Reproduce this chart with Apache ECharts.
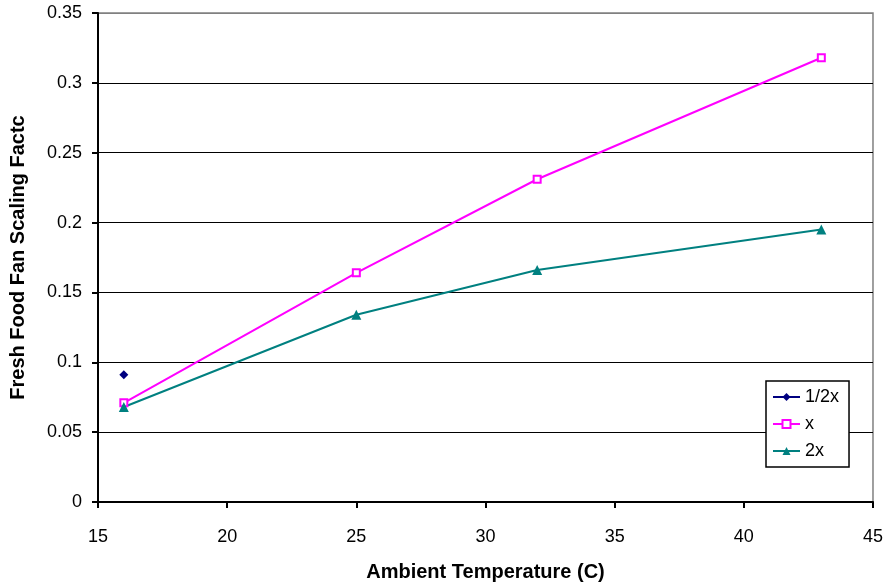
<!DOCTYPE html>
<html>
<head>
<meta charset="utf-8">
<script src="https://cdn.jsdelivr.net/npm/echarts@6/dist/echarts.min.js"></script>
<style>
  html, body { margin: 0; padding: 0; background: #fff; }
  #chart { width: 886px; height: 587px; }
</style>
</head>
<body>
<div id="chart"></div>
<script>
// Ambient temperature (C) at which each fan scaling factor was measured
const temperatures = [16, 25, 32, 43];
// Fresh food fan scaling factor per fan speed
const halfX = [[16, 0.091]];
const oneX = [0.071, 0.164, 0.231, 0.318];
const twoX = [0.068, 0.134, 0.166, 0.195];

const seriesNames = ['1/2x', 'x', '2x'];
const xTitle = 'Ambient Temperature (C)';
const yTitle = 'Fresh Food Fan Scaling Factc';

const pair = (xs, ys) => xs.map((x, i) => [x, ys[i]]);

const font = 'Liberation Sans, Arial, sans-serif';
const chart = echarts.init(document.getElementById('chart'), null, { renderer: 'canvas' });

chart.setOption({
  animation: false,
  backgroundColor: '#ffffff',
  grid: {
    left: 98, right: 13, top: 13, bottom: 84,
    show: true, borderColor: '#808080', borderWidth: 1.5
  },
  xAxis: {
    type: 'value', min: 15, max: 45, interval: 5,
    name: xTitle, nameLocation: 'middle', nameGap: 60,
    nameTextStyle: { fontFamily: font, fontSize: 20, fontWeight: 'bold', color: '#000' },
    axisLine: { show: true, lineStyle: { color: '#000', width: 2 } },
    axisTick: { show: true, inside: false, length: 6, lineStyle: { color: '#000', width: 2 } },
    axisLabel: { fontFamily: font, fontSize: 18, color: '#000', margin: 26 },
    splitLine: { show: false }
  },
  yAxis: {
    type: 'value', min: 0, max: 0.35, interval: 0.05,
    name: yTitle, nameLocation: 'middle', nameGap: 70,
    nameTextStyle: { fontFamily: font, fontSize: 20, fontWeight: 'bold', color: '#000' },
    axisLine: { show: true, lineStyle: { color: '#000', width: 2 } },
    axisTick: { show: true, inside: false, length: 6, lineStyle: { color: '#000', width: 2 } },
    axisLabel: { fontFamily: font, fontSize: 18, color: '#000', margin: 16 },
    splitLine: {
      show: true,
      lineStyle: {
        color: ['#000', '#000', '#000', '#000', '#000', '#000', '#000', '#808080'],
        width: 1.2
      }
    }
  },
  legend: {
    orient: 'vertical',
    left: 766, top: 381,
    padding: [7, 10, 7, 6],
    itemWidth: 27, itemHeight: 10, itemGap: 9,
    borderColor: '#000', borderWidth: 1.5,
    backgroundColor: '#fff',
    textStyle: { fontFamily: font, fontSize: 18, color: '#000' },
    data: seriesNames
  },
  series: [
    {
      name: seriesNames[0], type: 'line', data: halfX,
      symbol: 'diamond', symbolSize: 9,
      itemStyle: { color: '#000080' },
      lineStyle: { color: '#000080', width: 2 }
    },
    {
      name: seriesNames[1], type: 'line', data: pair(temperatures, oneX),
      symbol: 'rect', symbolSize: 7,
      itemStyle: { color: '#ffffff', borderColor: '#ff00ff', borderWidth: 2 },
      lineStyle: { color: '#ff00ff', width: 2 }
    },
    {
      name: seriesNames[2], type: 'line', data: pair(temperatures, twoX),
      symbol: 'triangle', symbolSize: 10,
      itemStyle: { color: '#008080' },
      lineStyle: { color: '#008080', width: 2 }
    }
  ]
});
</script>
</body>
</html>
